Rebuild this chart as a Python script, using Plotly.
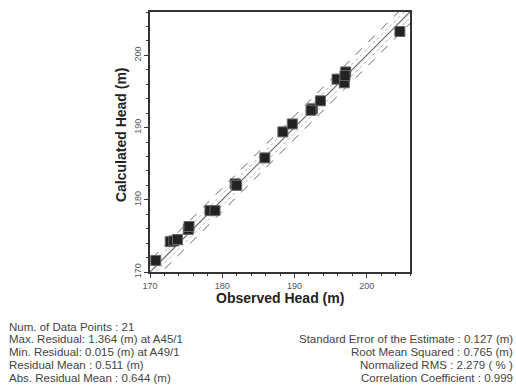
import plotly.graph_objects as go

observed = [170.8, 172.8, 173.3, 173.8, 175.3, 175.4, 178.3, 179.0, 181.8, 182.0, 185.9,
            188.4, 189.7, 192.5, 192.3, 193.6, 195.9, 196.9, 197.1, 197.0, 204.6]
calculated = [171.6, 174.2, 174.3, 174.5, 175.9, 176.3, 178.5, 178.5, 182.2, 182.0, 185.8,
              189.4, 190.5, 192.6, 192.4, 193.7, 196.7, 196.2, 197.7, 197.2, 203.3]

axis_range = [170, 206]
tick_vals = [170, 180, 190, 200]
tick_text = ["170", "180", "190", "200"]
band_inner = 0.8
band_outer = 1.6

stats_left = [
    "Num. of Data Points : 21",
    "Max. Residual: 1.364 (m) at A45/1",
    "Min. Residual: 0.015 (m) at A49/1",
    "Residual Mean : 0.511 (m)",
    "Abs. Residual Mean : 0.644 (m)",
]
stats_right = [
    "Standard Error of the Estimate : 0.127 (m)",
    "Root Mean Squared : 0.765 (m)",
    "Normalized RMS : 2.279 ( % )",
    "Correlation Coefficient : 0.999",
]

# plot area in pixels
PL, PR, PT, PB = 150, 410, 10, 272


def px_x(px):
    return (px - PL) / (PR - PL)


def px_y(py):
    return (PB - py) / (PB - PT)


fig = go.Figure()
lx = [axis_range[0] - 5, axis_range[1] + 5]
fig.add_trace(go.Scatter(x=lx, y=[v + band_outer for v in lx], mode="lines",
                         line=dict(color="#666666", width=1, dash="dash"), hoverinfo="skip"))
fig.add_trace(go.Scatter(x=lx, y=[v + band_inner for v in lx], mode="lines",
                         line=dict(color="#b0b0b0", width=1, dash="dot"), hoverinfo="skip"))
fig.add_trace(go.Scatter(x=lx, y=lx, mode="lines",
                         line=dict(color="#666666", width=1.2), hoverinfo="skip"))
fig.add_trace(go.Scatter(x=lx, y=[v - band_inner for v in lx], mode="lines",
                         line=dict(color="#b0b0b0", width=1, dash="dot"), hoverinfo="skip"))
fig.add_trace(go.Scatter(x=lx, y=[v - band_outer for v in lx], mode="lines",
                         line=dict(color="#666666", width=1, dash="dash"), hoverinfo="skip"))
fig.add_trace(go.Scatter(x=observed, y=calculated, mode="markers",
                         marker=dict(symbol="square", size=10, color="#222222",
                                     line=dict(color="#666666", width=1))))

axis_common = dict(range=axis_range, tickmode="array", tickvals=tick_vals, ticktext=tick_text,
                   ticks="outside", ticklen=4, tickcolor="#333333", tickwidth=1,
                   showgrid=False, zeroline=False, showline=True, linecolor="#333333",
                   linewidth=1.5, mirror=True,
                   tickfont=dict(family="Liberation Sans", size=9, color="#555555"),
                   minor=dict(ticks="outside", ticklen=2, tickcolor="#333333", dtick=2,
                              tick0=170, showgrid=False))

fig.update_xaxes(**axis_common)
fig.update_yaxes(**axis_common, tickangle=-90)

fig.update_layout(
    width=516, height=388, showlegend=False,
    margin=dict(l=PL, r=516 - PR, t=PT, b=388 - PB),
    paper_bgcolor="white", plot_bgcolor="white",
)
anns = []
anns.append(dict(text="<b>Observed Head (m)</b>", x=px_x(280), y=px_y(298), xref="paper", yref="paper",
                 xanchor="center", yanchor="middle", showarrow=False,
                 font=dict(family="Liberation Sans", size=14, color="#222222")))
anns.append(dict(text="<b>Calculated Head (m)</b>", x=px_x(121), y=px_y(134), xref="paper", yref="paper",
                 xanchor="center", yanchor="middle", textangle=-90, showarrow=False,
                 font=dict(family="Liberation Sans", size=14, color="#222222")))
y0 = 327
for i, t in enumerate(stats_left):
    anns.append(dict(text=t, x=px_x(8), y=px_y(y0 + 13 * i), xref="paper", yref="paper",
                     xanchor="left", yanchor="middle", showarrow=False, borderpad=0,
                     font=dict(family="Liberation Sans", size=11.5, color="#444444")))
for i, t in enumerate(stats_right):
    anns.append(dict(text=t, x=px_x(514), y=px_y(y0 + 13 * (i + 1)), xref="paper", yref="paper",
                     xanchor="right", yanchor="middle", showarrow=False, borderpad=0,
                     font=dict(family="Liberation Sans", size=11.5, color="#444444")))
fig.update_layout(annotations=anns)

fig.write_html("out.html")
